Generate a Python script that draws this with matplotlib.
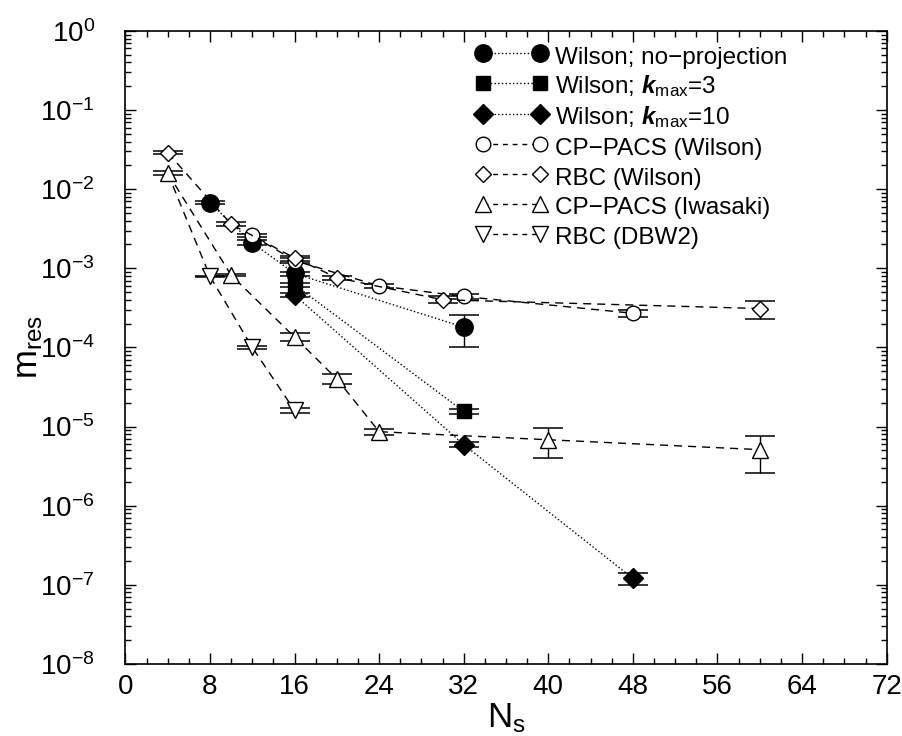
import numpy as np
import matplotlib
matplotlib.use("Agg")
import matplotlib.pyplot as plt
from matplotlib.lines import Line2D
from matplotlib.ticker import FixedLocator, MultipleLocator, LogLocator, NullFormatter

plt.rcParams['font.family'] = ['Liberation Sans', 'DejaVu Sans']
plt.rcParams['mathtext.fontset'] = 'custom'
plt.rcParams['mathtext.rm'] = 'Liberation Sans'
plt.rcParams['mathtext.it'] = 'Liberation Sans:italic'
plt.rcParams['mathtext.bf'] = 'Liberation Sans:bold'
plt.rcParams['mathtext.bfit'] = 'Liberation Sans:bold:italic'

# ---- data ----
wil_np_x = [8, 12, 16, 32]
wil_np_y = [6.7e-3, 2.1e-3, 8.6e-4, 1.8e-4]
wil_np_e = [0.3e-3, 0.15e-3, 0.5e-4, 0.8e-4]

wil_k3_x = [16, 32]
wil_k3_y = [6.2e-4, 1.55e-5]
wil_k3_e = [0.4e-4, 0.1e-5]

wil_k10_x = [16, 32, 48]
wil_k10_y = [4.6e-4, 5.9e-6, 1.2e-7]
wil_k10_e = [0.3e-4, 0.4e-6, 0.2e-7]

cpw_x = [12, 16, 24, 32, 48]
cpw_y = [2.6e-3, 1.25e-3, 6.0e-4, 4.4e-4, 2.7e-4]
cpw_e = [0.1e-3, 0.08e-3, 0.3e-4, 0.3e-4, 0.3e-4]

rbcw_x = [4, 10, 16, 20, 30, 60]
rbcw_y = [2.9e-2, 3.6e-3, 1.35e-3, 7.6e-4, 4.0e-4, 3.1e-4]
rbcw_e = [0.1e-2, 0.2e-3, 0.1e-3, 0.5e-4, 0.4e-4, 0.8e-4]

cpi_x = [4, 10, 16, 20, 24, 40, 60]
cpi_y = [1.6e-2, 8.2e-4, 1.35e-4, 4.0e-5, 8.6e-6, 6.8e-6, 5.1e-6]
cpi_e = [0.1e-2, 0.2e-4, 0.15e-4, 0.6e-5, 0.8e-6, 2.8e-6, 2.5e-6]

# the DBW2 curve starts at the Ls=4 point (hidden behind the Iwasaki marker)
dbw_x = [4, 8, 12, 16]
dbw_y = [1.6e-2, 7.9e-4, 1.0e-4, 1.6e-5]
dbw_e = [0.0, 0.2e-4, 0.05e-4, 0.1e-5]

labels = ['Wilson; no\u2212projection',
          'Wilson; $\\mathbfit{k}_{\\rm max}$=3',
          'Wilson; $\\mathbfit{k}_{\\rm max}$=10',
          'CP\u2212PACS (Wilson)',
          'RBC (Wilson)',
          'CP\u2212PACS (Iwasaki)',
          'RBC (DBW2)']

xticks = [0, 8, 16, 24, 32, 40, 48, 56, 64, 72]
yexp = [-8, -7, -6, -5, -4, -3, -2, -1, 0]

fig = plt.figure(figsize=(9.02, 7.36), dpi=100)
ax = fig.add_axes([0.139, 0.098, 0.844, 0.860])
ax.set_yscale('log')

DASH = (0, (5.8, 4.3))
series = [
    (wil_np_x, wil_np_y, wil_np_e, 'o', 12.5, 'black', ':'),
    (wil_k3_x, wil_k3_y, wil_k3_e, 's', 10.5, 'black', ':'),
    (wil_k10_x, wil_k10_y, wil_k10_e, 'D', 10, 'black', ':'),
    (cpw_x, cpw_y, cpw_e, 'o', 10.5, 'white', DASH),
    (rbcw_x, rbcw_y, rbcw_e, 'D', 8.5, 'white', DASH),
    (cpi_x, cpi_y, cpi_e, '^', 12, 'white', DASH),
    (dbw_x, dbw_y, dbw_e, 'v', 12, 'white', DASH),
]

handles = []
zorders = [3, 3, 3, 3, 3, 3.5, 3.2]
for (x, y, e, m, ms, fc, ls), lab, zo in zip(series, labels, zorders):
    xa, ya, ea = np.array(x, float), np.array(y, float), np.array(e, float)
    keep = ea > 0
    ax.errorbar(xa[keep], ya[keep], yerr=ea[keep], fmt='none', ecolor='black',
                elinewidth=1.0, capsize=11, capthick=1.1, zorder=2)
    mev = [i for i in range(len(x)) if keep[i]]
    ax.plot(x, y, linestyle=ls, color='black', linewidth=1.0,
            marker=m, markersize=ms, markerfacecolor=fc, markevery=mev,
            markeredgecolor='black', markeredgewidth=1.0, zorder=zo)
    lstyle = ':' if ls == ':' else (0, (3.5, 3.5))
    handles.append(Line2D([], [], linestyle=lstyle, color='black', linewidth=1.0,
                          marker=m, markersize=ms, markerfacecolor=fc,
                          markeredgecolor='black', markeredgewidth=1.0, label=lab))

ax.set_xlim(0, 72)
ax.set_ylim(1e-8, 1)
ax.xaxis.set_major_locator(FixedLocator(xticks))
ax.set_xticklabels([str(t) for t in xticks])
ax.xaxis.set_minor_locator(MultipleLocator(2))
ax.yaxis.set_major_locator(FixedLocator([10.0**k for k in yexp]))
ax.set_yticklabels(['$10^{%d}$' % k for k in yexp])
ax.yaxis.set_minor_locator(LogLocator(base=10, subs=np.arange(2, 10), numticks=20))
ax.yaxis.set_minor_formatter(NullFormatter())

ax.tick_params(which='both', direction='in', top=True, right=True, width=1.0)
ax.tick_params(which='major', length=8)
ax.tick_params(which='minor', length=4)
ax.tick_params(axis='x', which='major', labelsize=20, pad=7)
ax.tick_params(axis='y', which='major', labelsize=20, pad=22)
for s in ax.spines.values():
    s.set_linewidth(1.2)

ax.set_xlabel('N$_{\\rm s}$', fontsize=25, labelpad=1)
ax.set_ylabel('m$_{\\rm res}$', fontsize=25)
ax.yaxis.set_label_coords(-0.106, 0.5)

ax.legend(handles=handles, loc='upper left', bbox_to_anchor=(0.460, 0.981), frameon=False,
          numpoints=2, handlelength=2.95, handletextpad=0.33, labelspacing=0.17,
          handleheight=1.2, fontsize=17.5, borderaxespad=0, borderpad=0)

fig.savefig('out.png', dpi=100)
